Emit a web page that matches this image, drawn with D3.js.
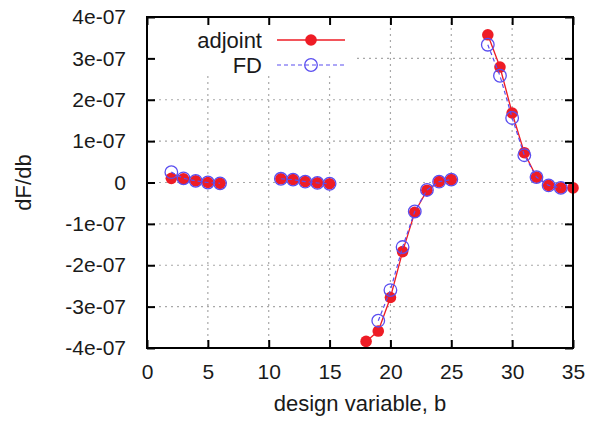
<!DOCTYPE html>
<html>
<head>
<meta charset="utf-8">
<script src="https://cdn.jsdelivr.net/npm/d3@7"></script>
<style>
  body { margin: 0; background: #fff; }
  svg { display: block; font-family: "Liberation Sans", Arial, sans-serif; }
</style>
</head>
<body>
<div id="chart"></div>
<script>
// design variables (x) and sensitivities (dF/db)
const designVar = [2, 3, 4, 5, 6, 11, 12, 13, 14, 15, 18, 19, 20, 21, 22, 23, 24, 25, 28, 29, 30, 31, 32, 33, 34, 35];
const adjoint = [0.10e-7, 0.09e-7, 0.04e-7, 0.00e-7, -0.02e-7,
  0.09e-7, 0.07e-7, 0.02e-7, -0.01e-7, -0.03e-7,
  -3.84e-7, -3.59e-7, -2.78e-7, -1.67e-7, -0.72e-7, -0.19e-7, 0.02e-7, 0.07e-7,
  3.57e-7, 2.79e-7, 1.68e-7, 0.72e-7, 0.13e-7, -0.07e-7, -0.13e-7, -0.13e-7];
const fd = [0.25e-7, 0.10e-7, 0.04e-7, 0.00e-7, -0.02e-7,
  0.09e-7, 0.07e-7, 0.02e-7, -0.01e-7, -0.03e-7,
  null, -3.34e-7, -2.60e-7, -1.56e-7, -0.70e-7, -0.18e-7, 0.02e-7, 0.07e-7,
  3.33e-7, 2.58e-7, 1.56e-7, 0.66e-7, 0.13e-7, -0.07e-7, -0.13e-7, null];

const xTicks = [0, 5, 10, 15, 20, 25, 30, 35];
const yTicks = [-4e-7, -3e-7, -2e-7, -1e-7, 0, 1e-7, 2e-7, 3e-7, 4e-7];

const width = 590, height = 421;
const margin = { left: 147, right: 17, top: 17, bottom: 73 };

const svg = d3.select("#chart").append("svg")
  .attr("width", width).attr("height", height);

const x = d3.scaleLinear().domain([0, 35]).range([margin.left, width - margin.right]);
const y = d3.scaleLinear().domain([-4e-7, 4e-7]).range([height - margin.bottom, margin.top]);

// labels façon gnuplot : 4e-07 (tiret simple, pas de signe moins unicode)
const fmtY = v => {
  if (Math.abs(v) < 1e-12) return "0";
  const s = d3.format(".0e")(v).replace("\u2212", "-");
  return s.replace(/e([+-])(\d)$/, "e$10$2");
};

// grille pointillée
const grid = svg.append("g").attr("stroke", "#a8a8a8").attr("stroke-width", 1.2)
  .attr("stroke-dasharray", "2,4");
grid.selectAll("line.gx").data(xTicks.slice(1, -1)).join("line")
  .attr("x1", d => x(d)).attr("x2", d => x(d))
  .attr("y1", y(-4e-7)).attr("y2", y(4e-7));
grid.selectAll("line.gy").data(yTicks.slice(1, -1)).join("line")
  .attr("x1", x(0)).attr("x2", x(35))
  .attr("y1", d => y(d)).attr("y2", d => y(d));

// séries
const pts = (vals) => designVar.map((d, i) => ({ x: d, y: vals[i] }));
const segments = (data) => {
  const out = [];
  let cur = [];
  data.forEach(d => {
    if (d.y == null) return;
    if (cur.length && d.x - cur[cur.length - 1].x > 1) { out.push(cur); cur = []; }
    cur.push(d);
  });
  if (cur.length) out.push(cur);
  return out;
};
const line = d3.line().x(d => x(d.x)).y(d => y(d.y));

const adjData = pts(adjoint);
const fdData = pts(fd).filter(d => d.y != null);

const red = "#ee1c25", blue = "#5a4ef0";

svg.append("g").selectAll("path").data(segments(adjData)).join("path")
  .attr("d", line).attr("fill", "none").attr("stroke", red).attr("stroke-width", 1.3);
svg.append("g").selectAll("circle").data(adjData).join("circle")
  .attr("cx", d => x(d.x)).attr("cy", d => y(d.y)).attr("r", 5.8).attr("fill", red);

svg.append("g").selectAll("path").data(segments(fdData)).join("path")
  .attr("d", line).attr("fill", "none").attr("stroke", blue).attr("stroke-width", 1.2)
  .attr("stroke-dasharray", "4,3");
svg.append("g").selectAll("circle").data(fdData).join("circle")
  .attr("cx", d => x(d.x)).attr("cy", d => y(d.y)).attr("r", 6.3)
  .attr("fill", "none").attr("stroke", blue).attr("stroke-width", 1.3);

// légende (fond opaque)
const lg = svg.append("g");
lg.append("rect").attr("x", x(0) + 1).attr("y", y(4e-7) + 1)
  .attr("width", 208).attr("height", 58).attr("fill", "#fff");
const legendItems = [
  { name: "adjoint", color: red, dash: null, filled: true, cy: 40 },
  { name: "FD", color: blue, dash: "4,3", filled: false, cy: 65 }
];
legendItems.forEach(it => {
  lg.append("text").attr("x", 262).attr("y", it.cy).attr("dy", "0.35em")
    .attr("text-anchor", "end").attr("font-size", 22).attr("fill", "#1a1a1a").text(it.name);
  lg.append("line").attr("x1", 277).attr("x2", 345).attr("y1", it.cy).attr("y2", it.cy)
    .attr("stroke", it.color).attr("stroke-width", it.filled ? 1.3 : 1.2)
    .attr("stroke-dasharray", it.dash);
  lg.append("circle").attr("cx", 311).attr("cy", it.cy).attr("r", it.filled ? 5.8 : 6.3)
    .attr("fill", it.filled ? it.color : "none")
    .attr("stroke", it.filled ? "none" : it.color).attr("stroke-width", 1.3);
});

// axes (ticks vers l'intérieur, sur les 4 côtés)
const tick = 8;
const styleAxis = g => {
  g.select(".domain").remove();
  g.selectAll(".tick line").attr("stroke", "#000").attr("stroke-width", 2);
  g.selectAll(".tick text").attr("fill", "#1a1a1a").attr("font-size", 21)
    .attr("font-family", "Liberation Sans, Arial, sans-serif");
};
svg.append("g").attr("transform", `translate(0,${y(-4e-7)})`)
  .call(d3.axisBottom(x).tickValues(xTicks).tickSizeInner(-tick).tickSizeOuter(0).tickPadding(16))
  .call(styleAxis);
svg.append("g").attr("transform", `translate(0,${y(4e-7)})`)
  .call(d3.axisTop(x).tickValues(xTicks).tickSizeInner(-tick).tickSizeOuter(0).tickFormat(""))
  .call(styleAxis);
svg.append("g").attr("transform", `translate(${x(0)},0)`)
  .call(d3.axisLeft(y).tickValues(yTicks).tickFormat(fmtY).tickSizeInner(-tick).tickSizeOuter(0).tickPadding(21))
  .call(styleAxis);
svg.append("g").attr("transform", `translate(${x(35)},0)`)
  .call(d3.axisRight(y).tickValues(yTicks).tickSizeInner(-tick).tickSizeOuter(0).tickFormat(""))
  .call(styleAxis);

// cadre
svg.append("rect").attr("x", x(0)).attr("y", y(4e-7))
  .attr("width", x(35) - x(0)).attr("height", y(-4e-7) - y(4e-7))
  .attr("fill", "none").attr("stroke", "#000").attr("stroke-width", 2);

// titres des axes
svg.append("text").attr("x", x(17.5)).attr("y", 411).attr("text-anchor", "middle")
  .attr("font-size", 22).attr("fill", "#1a1a1a").text("design variable, b");
svg.append("text").attr("transform", `translate(31,${y(0)}) rotate(-90)`)
  .attr("text-anchor", "middle").attr("font-size", 22).attr("fill", "#1a1a1a").text("dF/db");
</script>
</body>
</html>
